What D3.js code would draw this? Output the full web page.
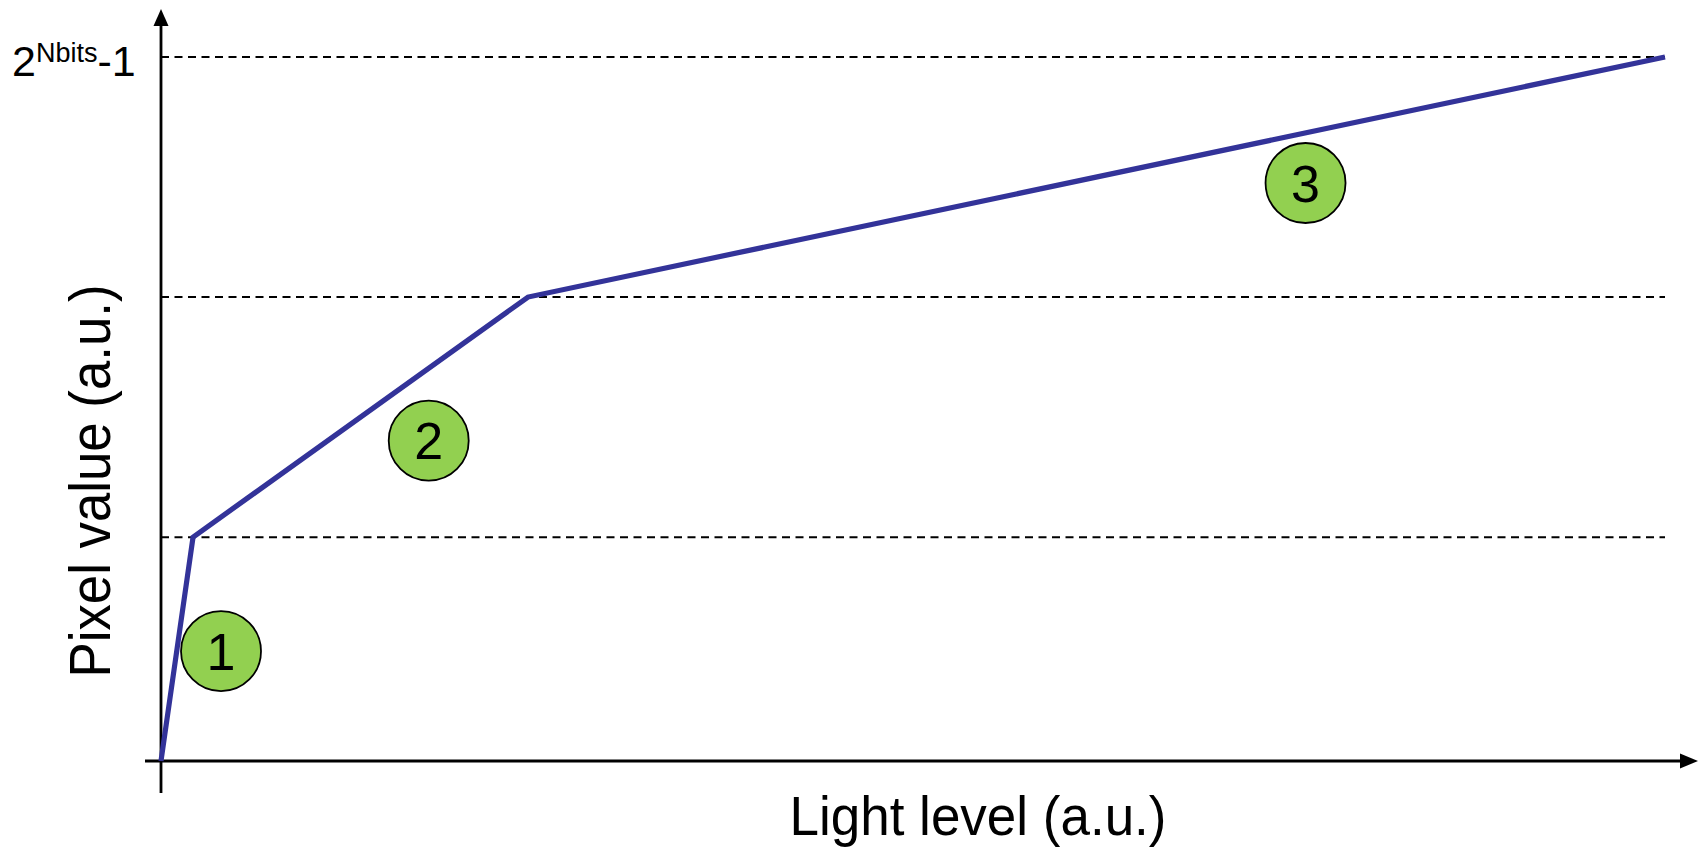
<!DOCTYPE html>
<html>
<head>
<meta charset="utf-8">
<script src="https://cdn.jsdelivr.net/npm/d3@7"></script>
<style>
  html, body { margin: 0; padding: 0; background: #fff; }
  svg { display: block; font-family: "Liberation Sans", Arial, sans-serif; }
</style>
</head>
<body>
<svg id="chart" width="1699" height="849"></svg>
<script>
// ---- data ----
const lightLevels = [0, 2.13, 24.4, 100];          // knee points along x (a.u.)
const pixelValues = [0, 0.318, 0.659, 1];          // pixel value as fraction of 2^Nbits-1
const thresholdLevels = [0.318, 0.659, 1];         // dashed reference levels
const regionLabels = ["1", "2", "3"];
const regionX = [3.99, 17.8, 76.1];
const regionY = [0.156, 0.455, 0.821];
const yTickValue = [1];
const xTitle = "Light level (a.u.)";
const yTitle = "Pixel value (a.u.)";

// ---- layout ----
const svg = d3.select("#chart");
const x = d3.scaleLinear().domain([0, 100]).range([161, 1665]);
const y = d3.scaleLinear().domain([0, 1]).range([761, 57]);

const lineColor = "#333399";
const green = "#92D050";

// dashed reference lines
svg.append("g").selectAll("line")
  .data(thresholdLevels)
  .join("line")
  .attr("x1", x(0)).attr("x2", x(100))
  .attr("y1", d => y(d)).attr("y2", d => y(d))
  .attr("stroke", "#000").attr("stroke-width", 2)
  .attr("stroke-dasharray", "8,5.5");

// axes lines
const axisG = svg.append("g");
axisG.append("line")
  .attr("x1", x(0)).attr("x2", x(0))
  .attr("y1", y(0) + 32).attr("y2", 24)
  .attr("stroke", "#000").attr("stroke-width", 2.8);
axisG.append("line")
  .attr("x1", x(0) - 16).attr("x2", 1682)
  .attr("y1", y(0)).attr("y2", y(0))
  .attr("stroke", "#000").attr("stroke-width", 2.8);
// arrowheads
axisG.append("path")
  .attr("d", `M${x(0)},9 L${x(0) - 7.5},26 L${x(0) + 7.5},26 Z`)
  .attr("fill", "#000");
axisG.append("path")
  .attr("d", `M1698,${y(0)} L1680,${y(0) - 7.5} L1680,${y(0) + 7.5} Z`)
  .attr("fill", "#000");

// response curve
const pts = lightLevels.map((d, i) => [d, pixelValues[i]]);
svg.append("path")
  .datum(pts)
  .attr("d", d3.line().x(d => x(d[0])).y(d => y(d[1])))
  .attr("fill", "none")
  .attr("stroke", lineColor)
  .attr("stroke-width", 5.2)
  .attr("stroke-linejoin", "miter");

// region markers
const marks = svg.append("g").selectAll("g")
  .data(regionLabels.map((l, i) => ({ l, x: regionX[i], y: regionY[i] })))
  .join("g")
  .attr("transform", d => `translate(${x(d.x)},${y(d.y)})`);
marks.append("circle")
  .attr("r", 40)
  .attr("fill", green)
  .attr("stroke", "#000")
  .attr("stroke-width", 1.8);
marks.append("text")
  .attr("text-anchor", "middle")
  .attr("dy", "0.36em")
  .attr("font-size", 52)
  .attr("fill", "#000")
  .text(d => d.l);

// y tick label 2^Nbits-1
yTickValue.forEach(v => {
  const t = svg.append("text")
    .attr("x", 12).attr("y", y(v) + 19)
    .attr("font-size", 43)
    .attr("fill", "#000");
  t.append("tspan").text("2");
  t.append("tspan").attr("dy", -14).attr("font-size", 27).text("Nbits");
  t.append("tspan").attr("dy", 14).text("-1");
});

// axis titles
svg.append("text")
  .attr("x", 978).attr("y", 835)
  .attr("text-anchor", "middle")
  .attr("font-size", 56)
  .attr("textLength", 377)
  .attr("lengthAdjust", "spacingAndGlyphs")
  .text(xTitle);

svg.append("text")
  .attr("transform", "translate(110,481) rotate(-90)")
  .attr("text-anchor", "middle")
  .attr("font-size", 58)
  .attr("textLength", 393)
  .attr("lengthAdjust", "spacingAndGlyphs")
  .text(yTitle);
</script>
</body>
</html>
